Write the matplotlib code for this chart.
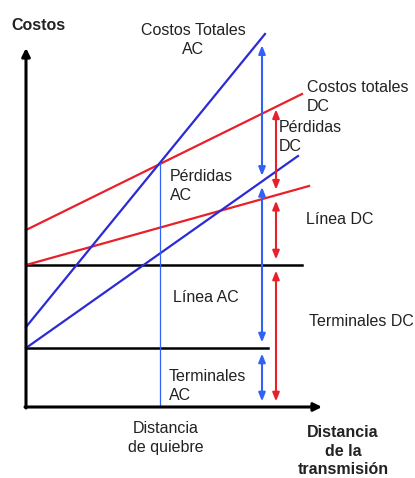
import matplotlib
matplotlib.use("Agg")
import matplotlib.pyplot as plt
import numpy as np

plt.rcParams['font.family'] = ['Liberation Sans', 'DejaVu Sans']

# Conceptual cost vs. distance data (arbitrary units)
ac_total_x = [0, 239]
ac_total_y = [80, 373]
ac_line_x = [0, 272]
ac_line_y = [59, 251]
dc_total_x = [0, 276]
dc_total_y = [177, 313]
dc_line_x = [0, 283]
dc_line_y = [142, 221]
terminals_ac = 59
terminals_ac_end = 242
terminals_dc = 142
terminals_dc_end = 276
break_distance = 134
x_axis_end = 296
y_axis_end = 359
ac_arrow_x = 236
dc_arrow_x = 250

BLUE = '#2b2bd6'
BLUE_ARROW = '#2f62f5'
RED = '#e8202a'
TXT = '#222222'

def interp(xs, ys, x):
    return np.interp(x, xs, ys)

fig = plt.figure(figsize=(4.15, 4.78), dpi=100)
ax = fig.add_axes([0, 0, 1, 1])
ax.set_xlim(-26, 389)
ax.set_ylim(-71, 407)
ax.axis('off')

# axes arrows
ax.annotate('', xy=(0, y_axis_end), xytext=(0, -1),
            arrowprops=dict(arrowstyle='-|>', color='black', lw=2.2,
                            mutation_scale=12, shrinkA=0, shrinkB=0))
ax.annotate('', xy=(x_axis_end, 0), xytext=(-1, 0),
            arrowprops=dict(arrowstyle='-|>', color='black', lw=2.2,
                            mutation_scale=12, shrinkA=0, shrinkB=0))

# terminal levels
ax.plot([0, terminals_dc_end], [terminals_dc, terminals_dc], color='black', lw=1.8)
ax.plot([0, terminals_ac_end], [terminals_ac, terminals_ac], color='black', lw=1.8)

# cost lines
ax.plot(dc_total_x, dc_total_y, color=RED, lw=1.6)
ax.plot(dc_line_x, dc_line_y, color=RED, lw=1.6)
ax.plot(ac_total_x, ac_total_y, color=BLUE, lw=1.6)
ax.plot(ac_line_x, ac_line_y, color=BLUE, lw=1.6)

# break distance
y_break = interp(ac_total_x, ac_total_y, break_distance)
ax.plot([break_distance, break_distance], [0, y_break], color=BLUE_ARROW, lw=0.9)

def darrow(x, y0, y1, color):
    ax.annotate('', xy=(x, y1), xytext=(x, y0),
                arrowprops=dict(arrowstyle='<|-|>,head_length=0.5,head_width=0.2',
                                color=color, lw=1.5,
                                mutation_scale=10, shrinkA=4, shrinkB=4))

# AC arrows
y_ac_top = interp(ac_total_x, ac_total_y, ac_arrow_x)
y_ac_line = interp(ac_line_x, ac_line_y, ac_arrow_x)
darrow(ac_arrow_x, y_ac_line, y_ac_top - 2, BLUE_ARROW)
darrow(ac_arrow_x, terminals_ac, y_ac_line, BLUE_ARROW)
darrow(ac_arrow_x, 0, terminals_ac, BLUE_ARROW)

# DC arrows
y_dc_top = interp(dc_total_x, dc_total_y, dc_arrow_x)
y_dc_line = interp(dc_line_x, dc_line_y, dc_arrow_x)
darrow(dc_arrow_x, y_dc_line, y_dc_top + 3, RED)
darrow(dc_arrow_x, terminals_dc, y_dc_line, RED)
darrow(dc_arrow_x, 0, terminals_dc, RED)

fs = 11.5
ls = 1.4
ax.text(12, 382, 'Costos', fontsize=11.5, fontweight='bold', color=TXT,
        ha='center', va='center')
ax.text(167, 367, 'Costos Totales\nAC', fontsize=fs, color=TXT,
        ha='center', va='center', linespacing=ls)
ax.text(281, 310, 'Costos totales\nDC', fontsize=fs, color=TXT,
        ha='left', va='center', linespacing=ls)
ax.text(253, 270, 'Pérdidas\nDC', fontsize=fs, color=TXT,
        ha='left', va='center', linespacing=ls)
ax.text(144, 221, 'Pérdidas\nAC', fontsize=fs, color=TXT,
        ha='left', va='center', linespacing=ls)
ax.text(280, 187, 'Línea DC', fontsize=fs, color=TXT,
        ha='left', va='center')
ax.text(147, 110, 'Línea AC', fontsize=fs, color=TXT,
        ha='left', va='center')
ax.text(283, 86, 'Terminales DC', fontsize=fs, color=TXT,
        ha='left', va='center')
ax.text(143, 21, 'Terminales\nAC', fontsize=fs, color=TXT,
        ha='left', va='center', linespacing=ls)
ax.text(140, -31, 'Distancia\nde quiebre', fontsize=fs, color=TXT,
        ha='center', va='center', linespacing=ls)
ax.text(317, -44, 'Distancia\nde la\ntransmisión', fontsize=11.5,
        fontweight='bold', color=TXT, ha='center', va='center', linespacing=1.3)

fig.savefig('out.png', dpi=100)
